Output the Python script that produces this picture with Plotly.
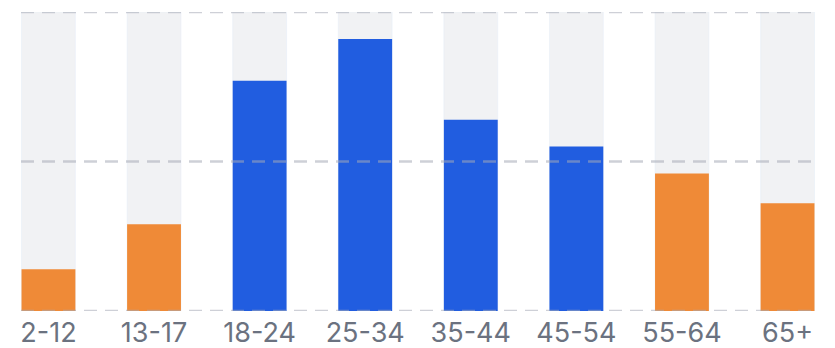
import plotly.graph_objects as go

age_groups = ["2-12", "13-17", "18-24", "25-34", "35-44", "45-54", "55-64", "65+"]
share = [14, 29, 77, 91, 64, 55, 46, 36]
bar_colors = ["#EF8A37", "#EF8A37", "#215DE0", "#215DE0", "#215DE0", "#215DE0", "#EF8A37", "#EF8A37"]
track = [100] * len(age_groups)
grid_values = [0, 50, 100]

fig = go.Figure()
fig.add_trace(go.Bar(x=age_groups, y=track, marker_color="#F1F2F4", width=0.51,
                     hoverinfo="skip", showlegend=False))
fig.add_trace(go.Bar(x=age_groups, y=share, marker_color=bar_colors, width=0.51,
                     marker_line_width=0, showlegend=False))

for v in grid_values:
    fig.add_shape(type="line", xref="paper", yref="y", x0=0, x1=1, y0=v, y1=v,
                  layer="above", line=dict(color="rgba(165,170,182,0.55)", width=2.5, dash="13px,8px"))

# page body adds an 8px offset, so the figure is sized to the visible area
fig.update_layout(
    width=827, height=340,
    margin=dict(l=13, r=20, t=4, b=37, autoexpand=False),
    barmode="overlay",
    plot_bgcolor="white", paper_bgcolor="white",
    font=dict(family="Inter, sans-serif", size=27, color="#6B7280"),
)
fig.update_xaxes(range=[-0.26, 7.26], showgrid=False, zeroline=False, showline=False,
                 ticks="", ticklabelstandoff=3, automargin=False)
fig.update_yaxes(range=[0, 100], showgrid=False, zeroline=False, showticklabels=False,
                 automargin=False)

fig.write_html("out.html")
